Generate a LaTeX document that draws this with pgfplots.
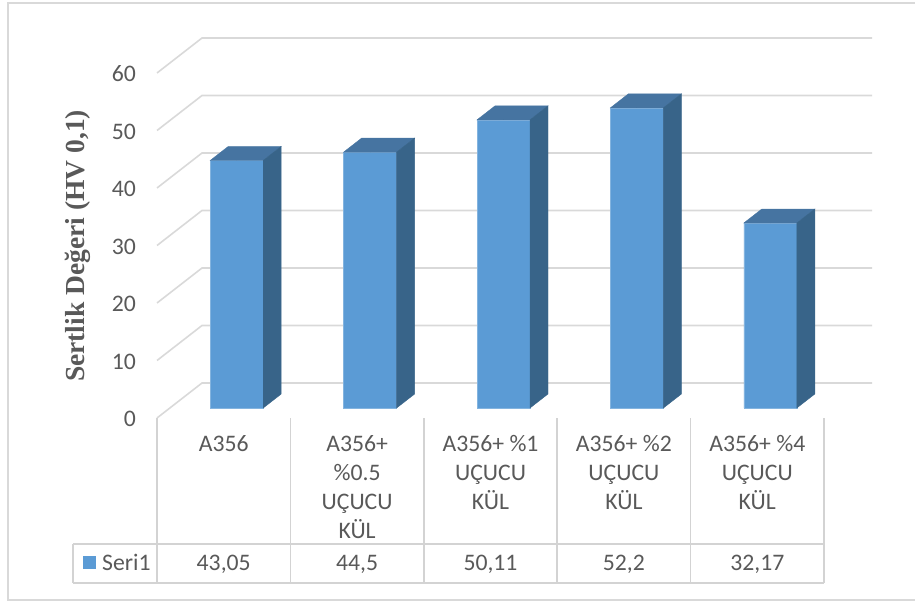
\documentclass[border=0pt]{standalone}
\usepackage{pgfplots}
\pgfplotsset{compat=1.18}
\usepackage{pgfplotstable}
\usepackage{fontspec}
\setmainfont{Carlito}
\newfontfamily\titlefont{Liberation Serif}

\definecolor{barfront}{HTML}{5B9BD5}
\definecolor{barside}{HTML}{386489}
\definecolor{bartop}{HTML}{4674A1}
\definecolor{gridgray}{HTML}{D9D9D9}
\definecolor{tablegray}{HTML}{D3D3D3}
\definecolor{textgray}{HTML}{595959}

% hardness per sample (x = category centre)
\pgfplotstableread{
x    v
0.5  43.05
1.5  44.5
2.5  50.11
3.5  52.2
4.5  32.17
}\hardness

\newcommand\lblfont{\fontsize{23.7}{29}\selectfont}

\begin{document}
\begin{tikzpicture}[x=1pt,y=1pt]
\useasboundingbox (0,0) rectangle (915,603);
% chart frame
\draw[gridgray, line width=1.5pt] (8,600) rectangle (920,3);

% walls: left-wall diagonals and back-wall gridlines
\foreach \k in {0,...,6}{
  \draw[gridgray, line width=1.6pt]
    (157,185+57.5*\k) -- (202,220+57.5*\k) -- (872,220+57.5*\k);
  \pgfmathtruncatemacro\lab{10*\k}
  \node[anchor=east, inner sep=0pt, text=textgray, font=\lblfont]
    at (136,184+57.5*\k) {\lab};
}

% data table grid
\foreach \k in {0,...,5}{
  \draw[tablegray, line width=1.5pt] (157+133.4*\k,185) -- (157+133.4*\k,20);
}
\draw[tablegray, line width=1.5pt] (73,59) -- (824,59);
\draw[tablegray, line width=1.5pt] (73,20) -- (824,20);
\draw[tablegray, line width=1.5pt] (73,59) -- (73,20);

% category names
\foreach \i/\t in {0/{A356},1/{A356+\\\%0.5\\UÇUCU\\KÜL},2/{A356+ \%1\\UÇUCU\\KÜL},
                   3/{A356+ \%2\\UÇUCU\\KÜL},4/{A356+ \%4\\UÇUCU\\KÜL}}{
  \node[anchor=north, inner sep=0pt, align=center, text=textgray, font=\lblfont]
    at (157+133.4*\i+66.7,168) {\t};
}

% legend key
\fill[barfront] (83,34) rectangle (96,47);
\node[anchor=base west, inner sep=0pt, text=textgray, font=\lblfont] at (102,33) {Seri1};

% axis title
\node[rotate=90, text=textgray, font=\titlefont\bfseries\fontsize{27.5}{33}\selectfont]
  at (78,357) {Sertlik Değeri (HV 0,1)};

\begin{axis}[
  at={(170pt,195pt)}, anchor=south west,
  scale only axis, width=667pt, height=345pt,
  xmin=0, xmax=5, ymin=0, ymax=60,
  enlargelimits=false, hide axis, clip=false,
  /pgf/number format/.cd, use comma, fixed, precision=2, assume math mode=true,
]
% front faces
\addplot[ybar, bar width=53pt, bar shift=0pt, fill=barfront,
  draw=barfront!75!white, line width=0.6pt] table[x=x,y=v]{\hardness};
% top and side faces, plus the value row of the table
\addplot[scatter, only marks, mark=*, mark size=0pt,
  mark options={draw=none,fill=none},
  visualization depends on={rawy \as \val},
  scatter/@pre marker code/.code={
    \pgfmathsetmacro\h{\val*5.75}
    \pgfmathsetmacro\hh{14-\h}
    \pgfmathsetmacro\hl{-\h-162}
    \fill[bartop] (-26.5pt,0pt) -- (26.5pt,0pt) -- (44.5pt,14pt) -- (-8.5pt,14pt) -- cycle;
    \fill[barside] (26.5pt,0pt) -- (44.5pt,14pt) -- (44.5pt,\hh pt) -- (26.5pt,-\h pt) -- cycle;
    \node[anchor=base, inner sep=0pt, text=textgray, font=\lblfont]
      at (-13pt,\hl pt) {\pgfmathprintnumber{\val}};
  },
  scatter/@post marker code/.code={}
] table[x=x,y=v]{\hardness};
\end{axis}
\end{tikzpicture}
\end{document}
